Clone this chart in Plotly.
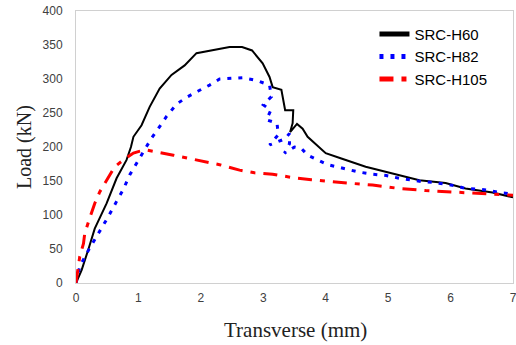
import plotly.graph_objects as go

# SRC-H60 (solid black)
h60_x = [0, 0.09, 0.2, 0.3, 0.49, 0.65, 0.81, 0.88, 0.92, 1.05, 1.18, 1.34, 1.53, 1.74, 1.93,
         2.25, 2.46, 2.66, 2.82, 2.99, 3.10, 3.15, 3.29, 3.35, 3.48, 3.47, 3.43, 3.54, 3.63, 3.71,
         4.0, 4.25, 4.64, 5.07, 5.5, 5.92, 6.24, 6.67, 7.0]
h60_y = [0, 19, 50, 80, 117, 154, 181, 200, 215, 232, 259, 286, 306, 320, 338,
         344, 347, 347, 342, 323, 303, 288, 284, 254, 254, 235, 222, 234, 227, 215,
         191, 183, 171, 161, 151, 147, 139, 133, 126]

# SRC-H82 (blue dotted)
h82_x = [0, 0.06, 0.18, 0.30, 0.52, 0.65, 0.76, 0.86, 0.97, 1.10, 1.21, 1.34, 1.45, 1.61, 1.77,
         1.95, 2.14, 2.30, 2.49, 2.67, 2.89, 3.10, 3.13, 3.0, 3.12, 3.05, 3.22, 3.24, 3.10, 3.35,
         3.42, 3.42, 3.34, 3.5, 3.61, 3.71, 3.87, 4.03, 4.17, 4.35, 4.54, 4.75, 4.97, 5.18, 5.37,
         5.55, 5.71, 5.90, 6.08, 6.24, 6.46, 6.62, 6.78, 7.0]
h82_y = [0, 24, 45, 63, 98, 120, 138, 159, 176, 196, 213, 230, 245, 263, 273,
         282, 291, 300, 301, 302, 298, 291, 274, 262, 254, 240, 235, 218, 203, 212,
         220, 205, 191, 200, 198, 188, 181, 174, 171, 167, 163, 160, 158, 154, 151,
         149, 148, 146, 143, 139, 138, 136, 133, 131]

# SRC-H105 (red dash-dot)
h105_x = [0, 0.01, 0.04, 0.06, 0.12, 0.14, 0.20, 0.30, 0.38, 0.49, 0.62, 0.76, 0.92, 1.10, 1.29,
          1.56, 1.82, 2.06, 2.30, 2.62, 2.86, 3.15, 3.47, 3.77, 4.06, 4.35, 4.75, 5.18, 5.60,
          6.14, 6.46, 6.88, 7.0]
h105_y = [0, 7, 22, 39, 58, 73, 90, 117, 134, 151, 171, 181, 191, 196, 193,
          188, 183, 178, 174, 166, 162, 160, 155, 152, 149, 147, 144, 139, 136,
          133, 132, 129, 129]

x_ticks = [0, 1, 2, 3, 4, 5, 6, 7]
y_ticks = [0, 50, 100, 150, 200, 250, 300, 350, 400]

fig = go.Figure()
fig.add_trace(go.Scatter(x=h60_x, y=h60_y, mode="lines", name="SRC-H60",
                         line=dict(color="black", width=2)))
fig.add_trace(go.Scatter(x=h82_x, y=h82_y, mode="lines", name="SRC-H82",
                         line=dict(color="#0000ff", width=3, dash="4px,7px")))
fig.add_trace(go.Scatter(x=h105_x, y=h105_y, mode="lines", name="SRC-H105",
                         line=dict(color="#ff0000", width=3, dash="14px,8px,5px,8px")))

tickfont = dict(family="Liberation Sans, Arial, sans-serif", size=12, color="#404040")
fig.update_layout(
    width=516, height=345,
    margin=dict(l=76, r=3, t=11, b=62),
    paper_bgcolor="white", plot_bgcolor="white",
    showlegend=True,
    legend=dict(x=0.683, y=0.975, xanchor="left", yanchor="top",
                bgcolor="rgba(0,0,0,0)", borderwidth=0,
                font=dict(family="Liberation Sans, Arial, sans-serif",
                          size=15, color="black"),
                tracegroupgap=0, itemsizing="constant"),
    xaxis=dict(range=[0, 7], tickvals=x_ticks, ticktext=[str(v) for v in x_ticks],
               showgrid=False, zeroline=False,
               showline=True, mirror=True, linecolor="#d0d0d0", linewidth=1,
               ticks="", tickfont=tickfont, ticklabelstandoff=4, automargin=False,
               ticklabeloverflow="allow"),
    yaxis=dict(range=[0, 400], tickvals=y_ticks, showgrid=False, zeroline=False,
               showline=True, mirror=True, linecolor="#d0d0d0", linewidth=1,
               ticks="", tickfont=tickfont, ticklabelstandoff=10, automargin=False,
               ticklabeloverflow="allow"),
    annotations=[
        dict(text="Transverse (mm)", xref="paper", yref="paper", x=0.503, y=-0.173,
             xanchor="center", yanchor="middle", showarrow=False,
             font=dict(family="Liberation Serif, DejaVu Serif, serif", size=21, color="#222222")),
        dict(text="Load (kN)", xref="paper", yref="paper", x=-0.119, y=0.5,
             xanchor="center", yanchor="middle", showarrow=False, textangle=-90,
             font=dict(family="Liberation Serif, DejaVu Serif, serif", size=20, color="#222222")),
    ],
)

fig.write_html("out.html")
